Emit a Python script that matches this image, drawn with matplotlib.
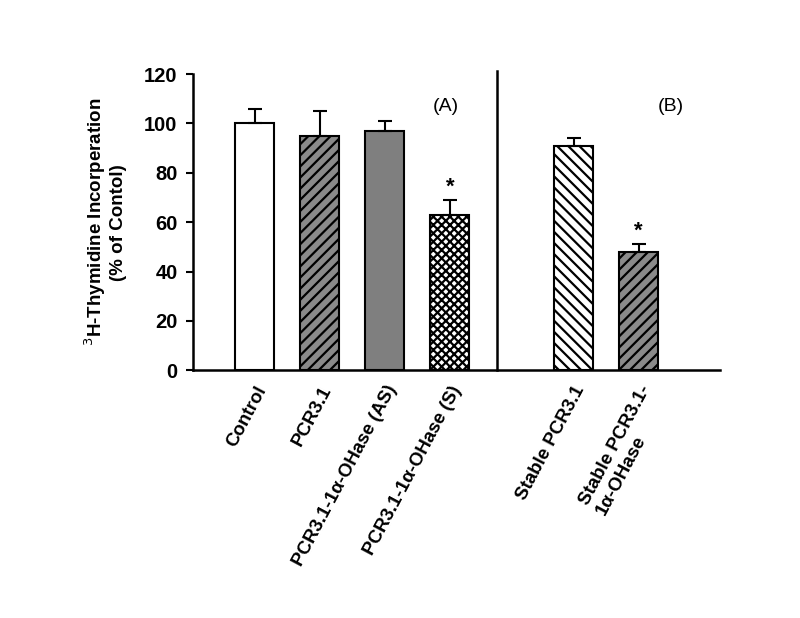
import numpy as np
import matplotlib
matplotlib.use("Agg")
import matplotlib.pyplot as plt

# data
labels = ["Control", "PCR3.1", "PCR3.1-1\u03b1-OHase (AS)", "PCR3.1-1\u03b1-OHase (S)",
          "Stable PCR3.1", "Stable PCR3.1-\n1\u03b1-OHase"]
values = [100, 95, 97, 63, 91, 48]
errors = [6, 10, 4, 6, 3, 3]
stars = [False, False, False, True, False, True]

positions = [1, 2, 3, 4, 5.9, 6.9]
facecolors = ["white", "#8a8a8a", "#7f7f7f", "white", "white", "#8a8a8a"]
hatches = [None, "///", None, "xxxx", "\\\\\\", "///"]

plt.rcParams['font.family'] = ['Liberation Sans', 'DejaVu Sans']
plt.rcParams['hatch.linewidth'] = 1.6

fig = plt.figure(figsize=(8, 6.18), dpi=100)
ax = fig.add_axes([0.241, 0.401, 0.659, 0.479])

bars = ax.bar(positions, values, width=0.6, color=facecolors, edgecolor="black",
              linewidth=1.5, zorder=2)
for b, h in zip(bars, hatches):
    if h:
        b.set_hatch(h)

ax.errorbar(positions, values, yerr=[np.zeros(len(values)), errors], fmt="none",
            ecolor="black", elinewidth=1.5, capsize=5, capthick=1.5, zorder=3)

for x, v, e, s in zip(positions, values, errors, stars):
    if s:
        ax.text(x, v + e + 1, "*", ha="center", va="bottom", fontsize=16,
                fontweight="bold")

# divider between panel A and B
ax.axvline(4.72, ymin=0, ymax=1.01, color="black", linewidth=1.8, clip_on=False)
ax.text(3.93, 107, "(A)", ha="center", va="center", fontsize=14)
ax.text(7.39, 107, "(B)", ha="center", va="center", fontsize=14)

ax.set_xlim(0.05, 8.15)
ax.set_ylim(0, 120)
ax.set_yticks(np.arange(0, 121, 20))
ax.tick_params(axis="y", labelsize=14.5, width=1.5, length=5, direction="out", pad=6)
for t in ax.get_yticklabels():
    t.set_fontweight("bold")
ax.set_xticks(positions)
ax.set_xticklabels(labels, rotation=62, ha="right", rotation_mode="anchor",
                   fontsize=13.5, fontweight="bold", multialignment="left")
ax.tick_params(axis="x", length=0, pad=9)

ax.spines["top"].set_visible(False)
ax.spines["right"].set_visible(False)
ax.spines["left"].set_linewidth(1.8)
ax.spines["bottom"].set_linewidth(1.8)

ax.set_ylabel("$^{3}$H-Thymidine Incorperation\n(% of Contol)", fontsize=13.5,
              fontweight="bold", labelpad=12)

fig.savefig("out.png", dpi=100)
